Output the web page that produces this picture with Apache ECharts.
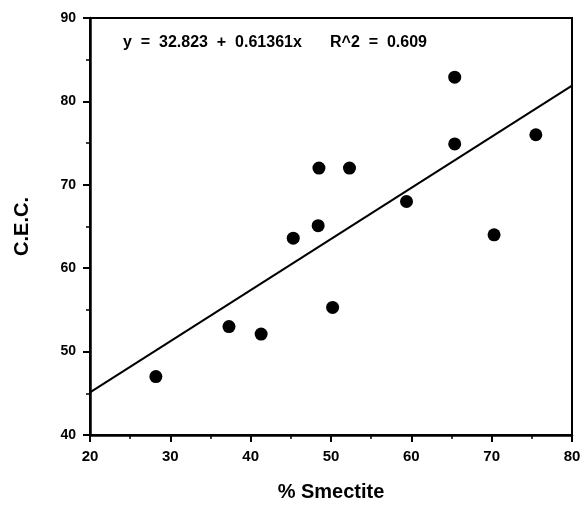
<!DOCTYPE html>
<html>
<head>
<meta charset="utf-8">
<script src="https://cdn.jsdelivr.net/npm/echarts@6/dist/echarts.min.js"></script>
<style>
html,body{margin:0;padding:0;background:#fff;}
#c{width:586px;height:507px;}
</style>
</head>
<body>
<div id="c"></div>
<script>
// Data
var smectite = [28.2, 37.3, 41.3, 45.3, 48.4, 48.5, 50.2, 52.3, 59.4, 65.4, 65.4, 70.3, 75.5];
var cec      = [47.0, 53.0, 52.1, 63.6, 65.1, 72.0, 55.3, 72.0, 68.0, 74.9, 82.9, 64.0, 76.0];
var fitX = [20, 80];
var fitY = [45.1, 81.9];
var equationText = 'y  =  32.823  +  0.61361x';
var r2Text = 'R^2  =  0.609';
var xTitle = '% Smectite';
var yTitle = 'C.E.C.';

var pts = smectite.map(function (x, i) { return [x, cec[i]]; });
var fit = fitX.map(function (x, i) { return [x, fitY[i]]; });

var font = '"Liberation Sans", Arial, Helvetica, sans-serif';
var chart = echarts.init(document.getElementById('c'), null, {renderer: 'canvas', width: 586, height: 507});

var axisCommon = {
  axisLine: {show: true, onZero: false, lineStyle: {color: '#000', width: 2.5}},
  axisTick: {show: true, inside: false, length: 7, lineStyle: {color: '#000', width: 2}},
  minorTick: {show: true, splitNumber: 2, length: 4, lineStyle: {color: '#000', width: 1.5}},
  splitLine: {show: false},
  axisLabel: {color: '#000', fontFamily: font, fontWeight: 'bold', fontSize: 14}
};

chart.setOption({
  animation: false,
  backgroundColor: '#fff',
  grid: {left: 90, right: 14, top: 18, bottom: 61, show: true, borderColor: '#000', borderWidth: 2, backgroundColor: 'transparent'},
  xAxis: Object.assign({}, axisCommon, {
    type: 'value', min: 20, max: 80, interval: 10,
    name: xTitle, nameLocation: 'middle', nameGap: 47,
    nameTextStyle: {color: '#000', fontFamily: font, fontWeight: 'bold', fontSize: 20},
    axisLabel: Object.assign({}, axisCommon.axisLabel, {margin: 14, fontSize: 15})
  }),
  yAxis: Object.assign({}, axisCommon, {
    type: 'value', min: 40, max: 90, interval: 10,
    name: yTitle, nameLocation: 'middle', nameGap: 58, nameRotate: 90,
    nameTextStyle: {color: '#000', fontFamily: font, fontWeight: 'bold', fontSize: 20},
    axisLabel: Object.assign({}, axisCommon.axisLabel, {margin: 14})
  }),
  graphic: [{
    type: 'text', left: 123, top: 35,
    style: {text: equationText, fill: '#000', font: 'bold 16px ' + font}
  }, {
    type: 'text', left: 330, top: 35,
    style: {text: r2Text, fill: '#000', font: 'bold 16px ' + font}
  }],
  series: [
    {type: 'line', data: fit, symbol: 'none', lineStyle: {color: '#000', width: 2}, z: 2},
    {type: 'scatter', data: pts, symbol: 'circle', symbolSize: 13, itemStyle: {color: '#000', opacity: 1}, z: 3}
  ]
});
</script>
</body>
</html>
